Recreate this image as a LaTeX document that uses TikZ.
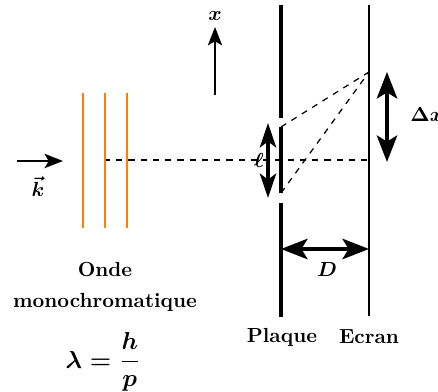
\documentclass[tikz,border=0pt]{standalone}
\usepackage{amsmath,bm}
\usetikzlibrary{arrows.meta}
\begin{document}
\begin{tikzpicture}[x=0.49pt,y=-0.49pt,
  lbl/.style={font=\bfseries\boldmath, inner sep=0pt},
  bigtip/.tip={Stealth[length=13pt,width=10pt,inset=3pt]},
  smalltip/.tip={Stealth[length=9pt,width=7pt,inset=2pt]},
  dbl/.style={line width=1.8pt, bigtip-bigtip},
  wave/.style={orange, line width=1.3pt},
  plate/.style={line width=2.4pt},
  screen/.style={line width=0.6pt},
  ray/.style={dashed, line width=0.6pt}]
\useasboundingbox (0,0) rectangle (438,392);
% plaque segments
\coordinate (P0) at (281,5);
\coordinate (P1) at (281,118);
\coordinate (S1) at (281,127);
\coordinate (S2) at (281,193);
\coordinate (P2) at (281,203);
\coordinate (P3) at (281,317);
\draw[plate] (P0) -- (P1);
\draw[plate] (S1) -- (S2);
\draw[plate] (P2) -- (P3);
% ecran
\coordinate (E0) at (369,5);
\coordinate (E1) at (369,316);
\draw[screen] (E0) -- (E1);
% axis and rays
\coordinate (A0) at (104,160);
\coordinate (A1) at (369,160);
\coordinate (M) at (369,72);
\draw[ray] (A0) -- (A1);
\draw[ray] (S1) -- (M);
\draw[ray] (S2) -- (M);
% wave fronts
\coordinate (W1a) at (83,93); \coordinate (W1b) at (83,228);
\coordinate (W2a) at (105,93); \coordinate (W2b) at (105,228);
\coordinate (W3a) at (127,93); \coordinate (W3b) at (127,228);
\draw[wave] (W1a) -- (W1b);
\draw[wave] (W2a) -- (W2b);
\draw[wave] (W3a) -- (W3b);
% k arrow
\coordinate (K0) at (17,161); \coordinate (K1) at (63,161);
\draw[line width=1.2pt, -smalltip] (K0) -- (K1);
\node[lbl] (klab) at (38,187) {$\vec{\bm k}$};
% x arrow
\coordinate (X0) at (215,95); \coordinate (X1) at (215,27);
\draw[line width=0.7pt, -smalltip] (X0) -- (X1);
\node[lbl] (xlab) at (215,16) {$\bm x$};
% double arrows
\coordinate (DX0) at (387,72); \coordinate (DX1) at (387,162);
\draw[dbl] (DX0) -- (DX1);
\node[lbl, anchor=west] (dxlab) at (410,115) {$\bm{\Delta x}$};
\coordinate (L0) at (268,123); \coordinate (L1) at (268,198);
\draw[line width=1.8pt, {Stealth[length=12pt,width=8pt,inset=3pt]}-{Stealth[length=12pt,width=8pt,inset=3pt]}] (L0) -- (L1);
\node[lbl] (llab) at (259,160) {$\bm\ell$};
\coordinate (D0) at (281,249); \coordinate (D1) at (369,249);
\draw[dbl] (D0) -- (D1);
\node[lbl] (dlab) at (327,270) {$\bm D$};
% texts
\node[lbl] (onde) at (105,270) {Onde};
\node[lbl] (mono) at (105,302) {monochromatique};
\node[lbl] (lam) at (103,362) {\large$\bm{\lambda = \dfrac{h}{p}}$};
\node[lbl] (plaque) at (282,337) {Plaque};
\node[lbl] (ecran) at (369,337) {Ecran};
\end{tikzpicture}
\end{document}
